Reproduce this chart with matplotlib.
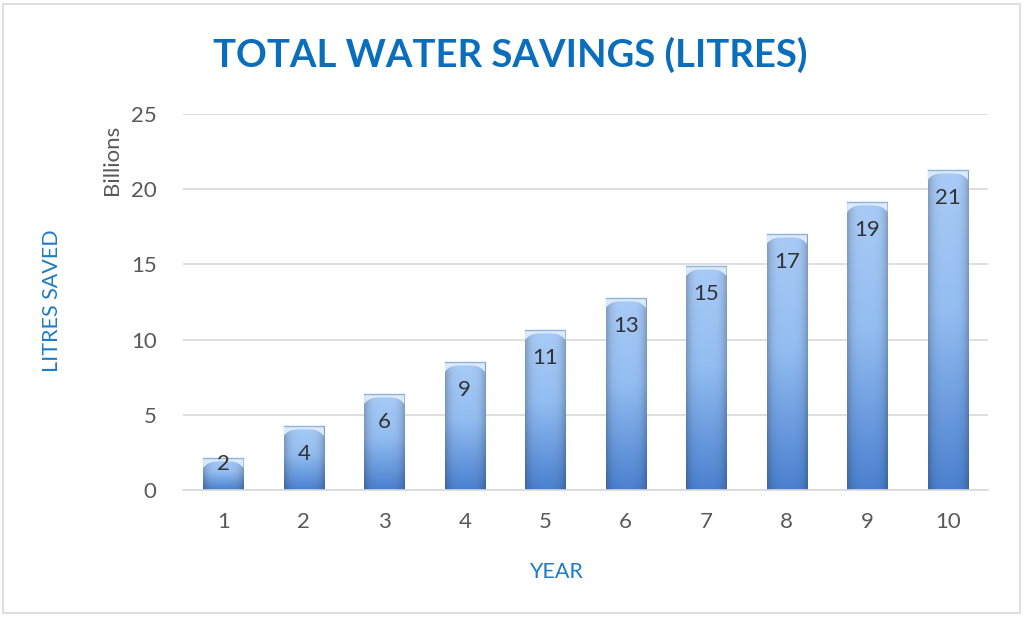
import numpy as np
import matplotlib
matplotlib.use("Agg")
import matplotlib.pyplot as plt
from matplotlib.patches import Rectangle, Polygon
from matplotlib.colors import to_rgb

years = ["1", "2", "3", "4", "5", "6", "7", "8", "9", "10"]
savings = [2.13, 4.26, 6.38, 8.51, 10.64, 12.77, 14.89, 17.02, 19.15, 21.28]
labels = [2, 4, 6, 9, 11, 13, 15, 17, 19, 21]
yticks = [0, 5, 10, 15, 20, 25]

plt.rcParams['font.family'] = ['Lato', 'DejaVu Sans']

fig = plt.figure(figsize=(10.24, 6.18), dpi=100)
fig.patch.set_facecolor('white')
# outer border
fig.add_artist(Rectangle((3/1024, 5/618), 1017/1024, 609/618, transform=fig.transFigure,
                         fill=False, edgecolor='#d9d9d9', linewidth=1.2))

ax = fig.add_axes([183/1024, 1-490/618, 805/1024, 376/618])
x = np.arange(len(years))
ax.set_xlim(-0.5, len(years)-0.5)
ax.set_ylim(0, 25)
ax.set_yticks(yticks)
ax.set_xticks(x)
ax.set_xticklabels(years)
for s in ['top', 'right', 'left']:
    ax.spines[s].set_visible(False)
ax.spines['bottom'].set_color('#d9d9d9')
ax.spines['bottom'].set_linewidth(1.2)
ax.yaxis.grid(True, color='#d9d9d9', linewidth=1.2)
ax.set_axisbelow(True)
ax.tick_params(length=0, labelsize=16, labelcolor='#595959')
ax.tick_params(axis='y', pad=19)
ax.tick_params(axis='x', pad=16)

width = 0.5
bars = ax.bar(x, savings, width=width, color='none', edgecolor='none', zorder=2)

# gradient image
ny, nx = 200, 60
t = np.linspace(0, 1, ny)[:, None]  # 0 bottom -> 1 top
u = np.linspace(0, 1, nx)[None, :]
c_bot = np.array(to_rgb('#4a80cf'))
c_mid = np.array(to_rgb('#93bdf1'))
c_top = np.array(to_rgb('#a9cbf6'))
tt = t[..., None]
col = np.where(tt < 0.55, c_bot + (c_mid - c_bot) * (tt / 0.55),
               c_mid + (c_top - c_mid) * ((tt - 0.55) / 0.45))
col = np.broadcast_to(col, (ny, nx, 3)).copy()
shade = 1 - 0.22 * np.abs(2 * u - 1) ** 4
col = col * shade[..., None]
col = np.clip(col, 0, 1)

for b, h in zip(bars, savings):
    x0 = b.get_x()
    w = b.get_width()
    im = ax.imshow(col, origin='lower', extent=[x0, x0 + w, 0, h], aspect='auto',
                   interpolation='bilinear', zorder=2)
    im.set_clip_path(b)
    # bevel at top
    bev = 0.5
    uu = np.linspace(0, 1, 40)
    depth = bev * (0.45 + 0.9 * (2 * uu - 1) ** 4)
    pts = [(x0, h)] + [(x0 + w * ui, h - d) for ui, d in zip(uu, depth)] + [(x0 + w, h)]
    ax.add_patch(Polygon(pts, closed=True, facecolor='#deeefd', edgecolor='none',
                         alpha=0.95, zorder=3))
    ax.plot([x0, x0 + w], [h, h], color='#8fb3e0', lw=1, zorder=3)

ax.set_ylim(0, 25)
ax.set_xlim(-0.5, len(years)-0.5)

# data labels
for xi, h, lab in zip(x, savings, labels):
    hpx = h * 376 / 25
    off = 28 if hpx > 60 else hpx * 0.2
    ax.annotate(str(lab), (xi, h), xytext=(0, -off), textcoords='offset pixels',
                ha='center', va='center', fontsize=16, color='#333333', zorder=4)

fig.text(510/1024, 1 - 55/618, "TOTAL WATER SAVINGS (LITRES)", ha='center', va='center',
         fontsize=27.5, fontweight='bold', color='#0b6ebd')
fig.text(112/1024, 1 - 160/618, "Billions", rotation=90, ha='center', va='center',
         fontsize=16, color='#595959')
fig.text(52/1024, 1 - 301/618, "LITRES SAVED", rotation=90, ha='center', va='center',
         fontsize=15.5, color='#1e7bc5')
fig.text(556/1024, 1 - 572/618, "YEAR", ha='center', va='center',
         fontsize=15.5, color='#1e7bc5')

fig.savefig("out.png", dpi=100)
